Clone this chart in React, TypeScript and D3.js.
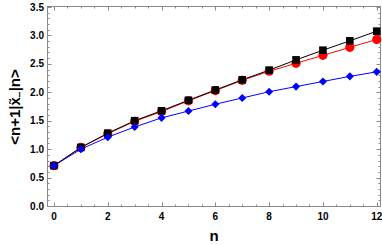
import React from "react";
import * as d3 from "d3";

const ns = [0, 1, 2, 3, 4, 5, 6, 7, 8, 9, 10, 11, 12];
const blackVals = [0.71, 1.03, 1.28, 1.5, 1.675, 1.86, 2.04, 2.22, 2.39, 2.57, 2.74, 2.905, 3.075];
const redVals = [0.71, 1.03, 1.27, 1.49, 1.66, 1.85, 2.03, 2.21, 2.37, 2.51, 2.65, 2.79, 2.93];
const blueVals = [0.71, 1.0, 1.21, 1.39, 1.55, 1.67, 1.79, 1.9, 2.01, 2.1, 2.19, 2.28, 2.36];
const xTicks = [0, 2, 4, 6, 8, 10, 12];
const yTicks = [0, 0.5, 1, 1.5, 2, 2.5, 3, 3.5];

const W = 382, H = 245;
const L = 47.5, R = 380.5, T = 6.5, B = 206.5;

export default function App() {
  const x = d3.scaleLinear().domain([-0.24, 12.14]).range([L, R]);
  const y = d3.scaleLinear().domain([0, 3.5]).range([206, 7]);
  const line = d3.line<number>().x((_, i) => x(ns[i])).y((v) => y(v));
  const xMinor = d3.range(0, 12.01, 0.5);
  const yMinor = d3.range(0, 3.501, 0.1);
  const frame = "#8a8a8a";
  const font = "Arial, 'Liberation Sans', sans-serif";
  const diamond = d3.symbol().type(d3.symbolDiamond2).size(42)();
  return (
    <svg width={W} height={H} style={{ position: "absolute", left: 0, top: 0 }}>
      <rect x={0} y={0} width={W} height={H} fill="#fff" />
      <rect x={L} y={T} width={R - L} height={B - T} fill="none" stroke={frame} strokeWidth={1} />
      {xMinor.map((t) => {
        const major = Math.abs(t % 2) < 1e-6;
        const len = major ? 4 : 2;
        const px = Math.round(x(t)) + 0.5;
        return (
          <g key={"xt" + t}>
            <line x1={px} x2={px} y1={B} y2={B - len} stroke={frame} />
            <line x1={px} x2={px} y1={T} y2={T + len} stroke={frame} />
          </g>
        );
      })}
      {yMinor.map((t, i) => {
        const major = i % 5 === 0;
        const len = major ? 4 : 2;
        const py = Math.round(y(t)) + 0.5;
        return (
          <g key={"yt" + i}>
            <line x1={L} x2={L + len} y1={py} y2={py} stroke={frame} />
            <line x1={R} x2={R - len} y1={py} y2={py} stroke={frame} />
          </g>
        );
      })}
      {xTicks.map((t) => (
        <text key={"xl" + t} x={x(t)} y={219.5} textAnchor="middle" fontFamily={font} fontWeight="bold" fontSize={10}>
          {t}
        </text>
      ))}
      {yTicks.map((t) => (
        <text key={"yl" + t} x={44} y={y(t) + 3.6} textAnchor="end" fontFamily={font} fontWeight="bold" fontSize={10}>
          {t.toFixed(1)}
        </text>
      ))}
      <text x={214} y={240.5} textAnchor="middle" fontFamily={font} fontWeight="bold" fontSize={15}>n</text>
      <text transform={`translate(20,107) rotate(-90)`} textAnchor="middle" fontFamily={font} fontWeight="bold" fontSize={15}>
        {"<n+1|x\u0303"}
        <tspan fontSize={10} dy={3}>{"\u2212"}</tspan>
        <tspan dy={-3}>{"|n>"}</tspan>
      </text>
      <path d={line(redVals) || ""} fill="none" stroke="#ff0000" strokeWidth={1} />
      <path d={line(blackVals) || ""} fill="none" stroke="#000" strokeWidth={1} />
      <path d={line(blueVals) || ""} fill="none" stroke="#0000ff" strokeWidth={1} />
      {redVals.map((v, i) => (
        <circle key={"r" + i} cx={x(ns[i])} cy={y(v)} r={4.6} fill="#ff0000" />
      ))}
      {blackVals.map((v, i) => (
        <rect key={"b" + i} x={x(ns[i]) - 3.8} y={y(v) - 3.8} width={7.6} height={7.6} fill="#000" />
      ))}
      {blueVals.map((v, i) => (
        <path key={"d" + i} d={diamond || ""} transform={`translate(${x(ns[i])},${y(v)})`} fill="#0000ff" />
      ))}
    </svg>
  );
}
